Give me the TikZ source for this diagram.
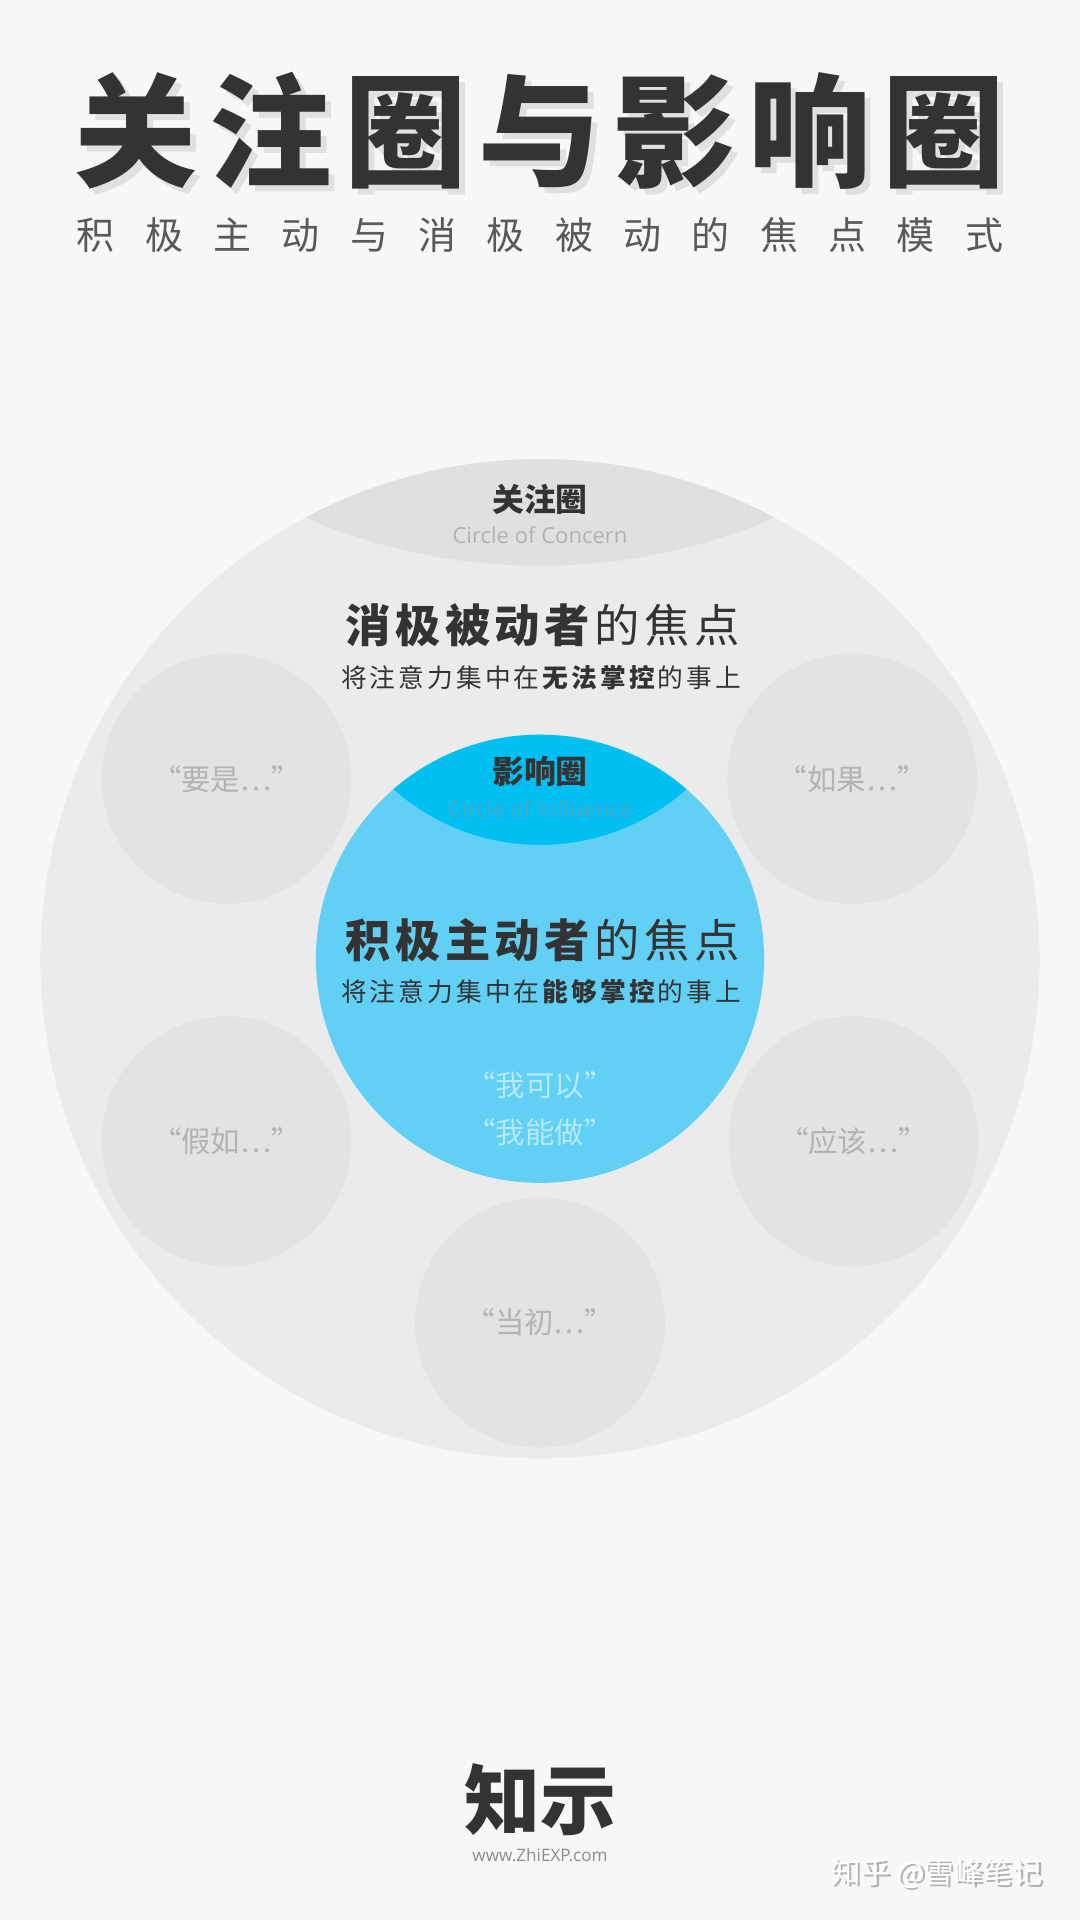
\documentclass[tikz,border=0pt]{standalone}
\usepackage{fontspec}
\setmainfont{Noto Sans CJK SC}
\newfontfamily\cjk{Noto Sans CJK SC}
\newfontfamily\latn{Open Sans}
\definecolor{bgc}{HTML}{F7F7F7}
\definecolor{bigc}{HTML}{EBEBEB}
\definecolor{capc}{HTML}{E0E0E0}
\definecolor{smallcol}{HTML}{E3E3E3}
\definecolor{bluec}{HTML}{62CFF5}
\definecolor{bluecapc}{HTML}{00BFF3}
\definecolor{darkc}{HTML}{333333}
\definecolor{ghostc}{HTML}{B3B3B3}
\tikzset{
  fs/.style={font=\cjk\fontsize{#1}{#1}\selectfont},
  sp/.style 2 args={font=\cjk\fontsize{#1}{#1}\selectfont\addfontfeatures{LetterSpace=#2}},
  quote/.style={fs=24,text=ghostc},
  smallc/.style={circle,fill=smallcol,minimum size=204pt,inner sep=0pt}
}
\begin{document}
\begin{tikzpicture}[x=1pt,y=-1pt]
\useasboundingbox[fill=bgc] (0,0) rectangle (882,1568);
% title
\node[font=\cjk\bfseries\fontsize{100}{100}\selectfont\addfontfeatures{LetterSpace=10},text=black!12] at (446,112) {关注圈与影响圈};
\node (title)[font=\cjk\bfseries\fontsize{100}{100}\selectfont\addfontfeatures{LetterSpace=10},text=darkc] at (441,107) {关注圈与影响圈};
\node (sub)[sp={31}{80},text=black!65] at (441,192) {积极主动与消极被动的焦点模式};
% big circle
\fill[bigc] (441,783) circle (408);
\begin{scope}
\clip (441,783) circle (408);
\fill[capc] (441,-24) circle (486);
\end{scope}
\node (cc)[font=\cjk\bfseries\fontsize{26}{26}\selectfont,text=darkc] at (441,408) {关注圈};
\node[font=\latn\fontsize{18}{18}\selectfont,text=ghostc] at (441,437) {Circle of Concern};
\node (neg)[sp={37}{10},text=darkc] at (443,511) {\textbf{消极被动者}的焦点};
\node[sp={21}{12},text=darkc] at (442,553) {将注意力集中在\textbf{无法掌控}的事上};
% small circles
\node[smallc] (c1) at (185,636) {};
\node[smallc] (c2) at (696,636) {};
\node[smallc] (c3) at (185,932) {};
\node[smallc] (c4) at (697,932) {};
\node[smallc] (c5) at (441,1080) {};
\node[quote] at (c1) {“要是…”};
\node[quote] at (c2) {“如果…”};
\node[quote] at (c3) {“假如…”};
\node[quote] at (c4) {“应该…”};
\node[quote] at (c5) {“当初…”};
% blue circle
\fill[bluec] (441,783) circle (183);
\begin{scope}
\clip (441,783) circle (183);
\fill[bluecapc] (441,510) circle (180);
\end{scope}
\node (ci)[font=\cjk\bfseries\fontsize{26}{26}\selectfont,text=darkc] at (441,630) {影响圈};
\node[font=\latn\fontsize{18}{18}\selectfont,text=bluec!80!black] at (441,661) {Circle of Influence};
\node (pos)[sp={37}{10},text=darkc] at (443,768) {\textbf{积极主动者}的焦点};
\node[sp={21}{12},text=darkc] at (442,810) {将注意力集中在\textbf{能够掌控}的事上};
\node[fs=24,text=white!55!bluec] at (441,886) {“我可以”};
\node[fs=24,text=white!55!bluec] at (441,925) {“我能做”};
% footer
\node (logo)[font=\cjk\bfseries\fontsize{62}{62}\selectfont,text=darkc] at (441,1470) {知示};
\node[font=\latn\fontsize{14}{14}\selectfont,text=black!45] at (441,1515) {www.ZhiEXP.com};
\node[fs=24,text=black!30] at (767,1532) {知乎 @雪峰笔记};
\node[fs=24,text=white] at (765,1530) {知乎 @雪峰笔记};
\end{tikzpicture}
\end{document}
